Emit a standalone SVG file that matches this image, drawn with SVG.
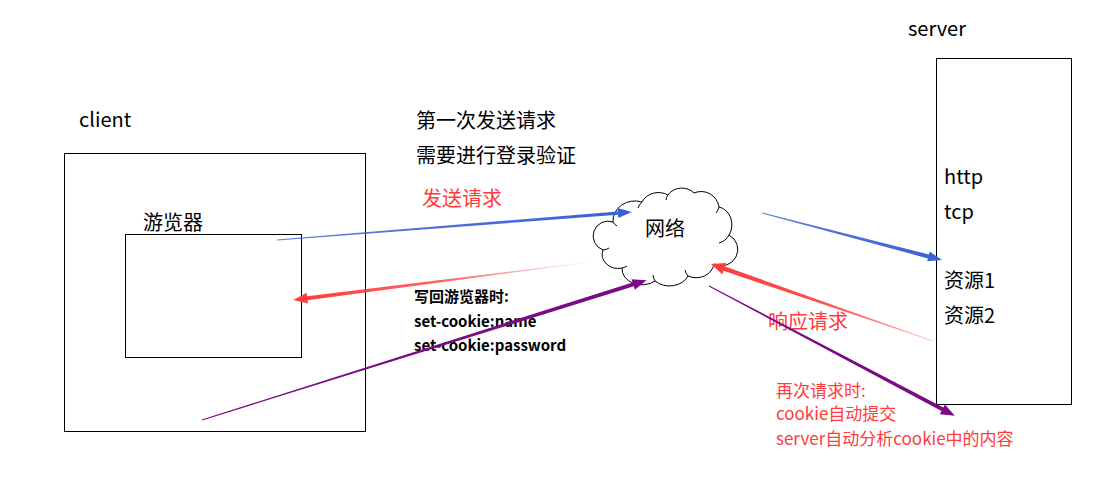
<svg xmlns="http://www.w3.org/2000/svg" width="1117" height="489" viewBox="0 0 1117 489">
<style>
.box{fill:none;stroke:#000;stroke-width:1}
.t{font-family:"Noto Sans CJK SC","Microsoft YaHei",sans-serif;font-size:20px;fill:#000}
.r{fill:#ff3b3b}
.s{font-family:"Noto Sans CJK SC",sans-serif;font-size:15px;font-weight:bold;fill:#000}
.m{font-family:"Noto Sans CJK SC",sans-serif;font-size:17px;fill:#ff3b3b}
</style>
<defs>
<linearGradient id="fr" x1="0" y1="0" x2="1" y2="0"><stop offset="0" stop-color="#ff3b3b" stop-opacity="0.05"/><stop offset="0.5" stop-color="#ff3b3b" stop-opacity="0.8"/><stop offset="1" stop-color="#ff3b3b"/></linearGradient>
<linearGradient id="fr2" x1="0" y1="0" x2="1" y2="0"><stop offset="0" stop-color="#ff3b3b" stop-opacity="0.4"/><stop offset="0.5" stop-color="#ff3b3b" stop-opacity="0.9"/><stop offset="1" stop-color="#ff3b3b"/></linearGradient>
<linearGradient id="fb" x1="0" y1="0" x2="1" y2="0"><stop offset="0" stop-color="#3a5fd6" stop-opacity="0.8"/><stop offset="1" stop-color="#3a5fd6"/></linearGradient>
</defs>
<g id="client"><rect class="box" x="64.5" y="153.5" width="301" height="278"/><text class="t" x="79" y="127">client</text></g>
<g id="browser"><rect class="box" x="125.5" y="234.5" width="176" height="123"/><text class="t" x="143" y="230">游览器</text></g>
<g id="server"><rect class="box" x="936.5" y="58.5" width="135" height="346"/><text class="t" x="908" y="36">server</text>
<text class="t" x="944" y="184">http</text><text class="t" x="944" y="219">tcp</text><text class="t" x="944" y="288">资源1</text><text class="t" x="944" y="323">资源2</text></g>
<g id="network">
<path fill="#fff" stroke="#000" stroke-width="1" d="M613,222 A22,20 0 0 1 642,202 A18,16 0 0 1 668,195 A16,14 0 0 1 694,193 A18,18 0 0 1 719,207 A16,18 0 0 1 729,235 A16,16 0 0 1 714,264 A18,16 0 0 1 688,276 A20,16 0 0 1 655,281 A20,16 0 0 1 622,268 A16,14 0 0 1 603,250 A14,14 0 0 1 613,222 Z"/>
<path fill="none" stroke="#000" stroke-width="1" d="M613,222 a10,10 0 0 0 4,4 M642,202 a14,14 0 0 0 -4,6 M668,195 a10,10 0 0 0 -2,5 M719,207 a14,14 0 0 1 -3,6 M729,235 a16,16 0 0 1 -10,8 M688,276 a14,14 0 0 1 -3,-6 M655,281 a14,14 0 0 1 -2,-6 M622,268 a12,12 0 0 0 5,-2 M603,250 a12,12 0 0 0 6,-2"/>
<text class="t" x="645" y="236">网络</text></g>
<g id="labels">
<text class="t" x="416" y="128">第一次发送请求</text>
<text class="t" x="416" y="163">需要进行登录验证</text>
<text class="t r" x="422" y="206">发送请求</text>
<text class="t r" x="768" y="329">响应请求</text>
<text class="s" x="414" y="302">写回游览器时:</text>
<text class="s" x="414" y="327">set-cookie:name</text>
<text class="s" x="414" y="351">set-cookie:password</text>
<text class="m" x="776" y="397">再次请求时:</text>
<text class="m" x="776" y="420">cookie自动提交</text>
<text class="m" x="776" y="445">server自动分析cookie中的内容</text>
</g>
<g id="connectors">
<polygon fill="url(#fb)" transform="translate(277,240) rotate(-4.51)" points="0,-0.5 342,-1.6 342,-5 356,0 342,5 342,1.6 0,0.5"/>
<polygon fill="url(#fr)" transform="translate(590,262) rotate(172.71)" points="0,-0.3 285,-2 285,-5.5 299,0 285,5.5 285,2 0,0.3"/>
<polygon fill="#7b0a86" transform="translate(202,420) rotate(-17.46)" points="0,-0.5 452,-2 452,-5.5 466,0 452,5.5 452,2 0,0.5"/>
<polygon fill="url(#fb)" transform="translate(762,213) rotate(14.63)" points="0,-0.5 172,-2 172,-5 186,0 172,5 172,2 0,0.5"/>
<polygon fill="url(#fr2)" transform="translate(933,341) rotate(199.13)" points="0,-0.3 221,-2.3 221,-6 235,0 221,6 221,2.3 0,0.3"/>
<polygon fill="#7b0a86" transform="translate(709,286) rotate(27.85)" points="0,-0.5 264,-2 264,-5.5 278,0 264,5.5 264,2 0,0.5"/>
</g>
</svg>
